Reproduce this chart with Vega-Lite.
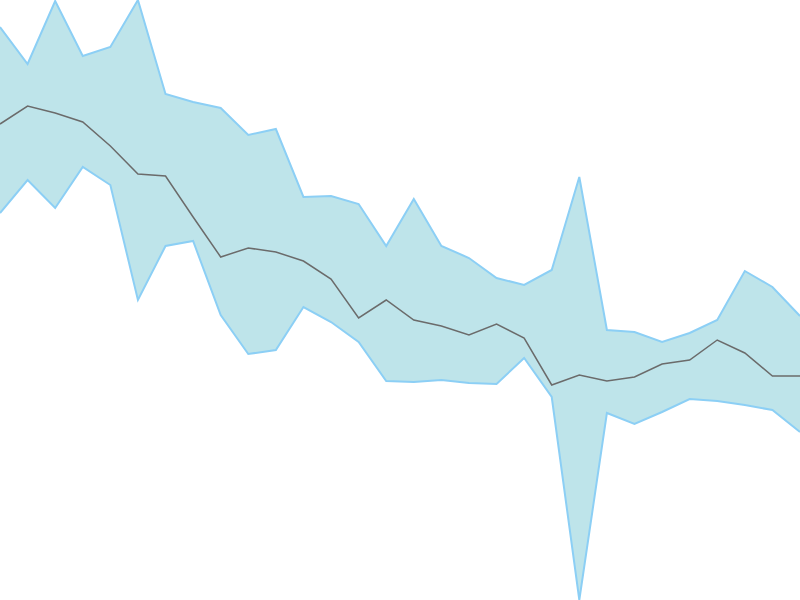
{
  "$schema": "https://vega.github.io/schema/vega-lite/v6.json",
  "width": 800,
  "height": 600,
  "autosize": {"type": "none"},
  "padding": 0,
  "config": {"view": {"stroke": null}},
  "data": {
    "values": [
      {"i": 0, "hi": 573, "lo": 387, "mid": 476},
      {"i": 1, "hi": 536, "lo": 420, "mid": 494},
      {"i": 2, "hi": 599, "lo": 392, "mid": 487},
      {"i": 3, "hi": 544, "lo": 433, "mid": 478},
      {"i": 4, "hi": 553, "lo": 415, "mid": 454},
      {"i": 5, "hi": 600, "lo": 300, "mid": 426},
      {"i": 6, "hi": 506, "lo": 354, "mid": 424},
      {"i": 7, "hi": 498, "lo": 359, "mid": 383},
      {"i": 8, "hi": 492, "lo": 285, "mid": 343},
      {"i": 9, "hi": 465, "lo": 246, "mid": 352},
      {"i": 10, "hi": 471, "lo": 250, "mid": 348},
      {"i": 11, "hi": 403, "lo": 293, "mid": 339},
      {"i": 12, "hi": 404, "lo": 278, "mid": 321},
      {"i": 13, "hi": 396, "lo": 258, "mid": 282},
      {"i": 14, "hi": 354, "lo": 219, "mid": 300},
      {"i": 15, "hi": 401, "lo": 218, "mid": 280},
      {"i": 16, "hi": 354, "lo": 220, "mid": 274},
      {"i": 17, "hi": 342, "lo": 217, "mid": 265},
      {"i": 18, "hi": 322, "lo": 216, "mid": 276},
      {"i": 19, "hi": 315, "lo": 242, "mid": 262},
      {"i": 20, "hi": 330, "lo": 203, "mid": 215},
      {"i": 21, "hi": 423, "lo": 0, "mid": 225},
      {"i": 22, "hi": 270, "lo": 187, "mid": 219},
      {"i": 23, "hi": 268, "lo": 176, "mid": 223},
      {"i": 24, "hi": 258, "lo": 188, "mid": 236},
      {"i": 25, "hi": 267, "lo": 201, "mid": 240},
      {"i": 26, "hi": 280, "lo": 199, "mid": 260},
      {"i": 27, "hi": 329, "lo": 195, "mid": 247},
      {"i": 28, "hi": 313, "lo": 190, "mid": 224},
      {"i": 29, "hi": 284, "lo": 168, "mid": 224}
    ]
  },
  "encoding": {
    "x": {"field": "i", "type": "quantitative", "axis": null, "scale": {"domain": [0, 29], "nice": false, "zero": false}}
  },
  "layer": [
    {
      "mark": {"type": "area", "color": "#bee4ea", "opacity": 1},
      "encoding": {
        "y": {"field": "hi", "type": "quantitative", "axis": null, "scale": {"domain": [0, 600], "nice": false}},
        "y2": {"field": "lo"}
      }
    },
    {
      "mark": {"type": "line", "color": "#8ccff5", "strokeWidth": 2},
      "encoding": {"y": {"field": "hi", "type": "quantitative"}}
    },
    {
      "mark": {"type": "line", "color": "#8ccff5", "strokeWidth": 2},
      "encoding": {"y": {"field": "lo", "type": "quantitative"}}
    },
    {
      "mark": {"type": "line", "color": "#6b6b6b", "strokeWidth": 1.5},
      "encoding": {"y": {"field": "mid", "type": "quantitative"}}
    }
  ]
}
